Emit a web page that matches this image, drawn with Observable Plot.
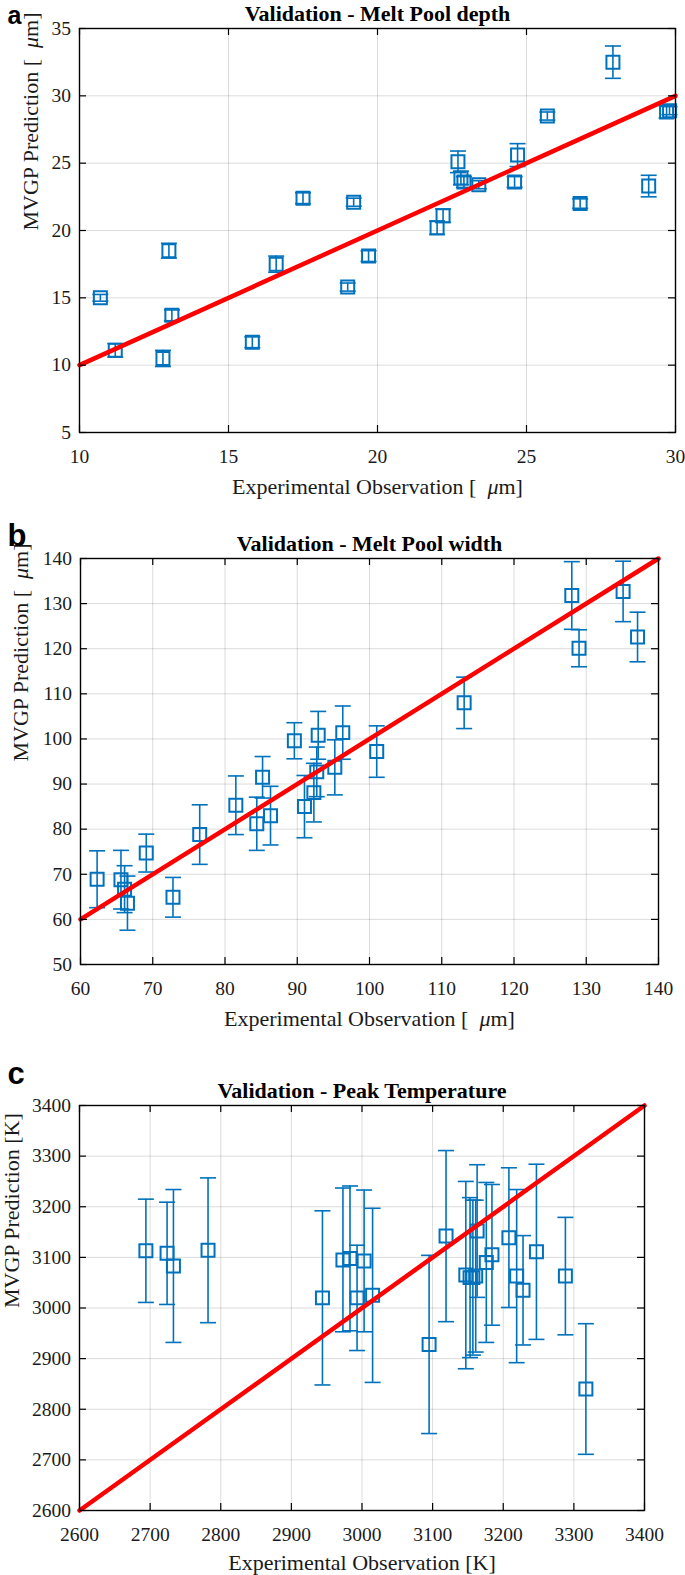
<!DOCTYPE html>
<html><head><meta charset="utf-8">
<script src="https://cdn.jsdelivr.net/npm/d3@7"></script>
<script src="https://cdn.jsdelivr.net/npm/@observablehq/plot@0.6"></script>
<style>html,body{margin:0;padding:0;background:#fff;} svg{display:block}</style>
</head><body><div id="chart"></div>
<script>
// Panel a: melt pool depth
const depthObs  = [10.7, 11.2, 12.8, 13.0, 13.1, 15.8, 16.6, 17.5, 19.0, 19.2, 19.7, 22.0, 22.2, 22.7, 22.8, 22.9, 23.4, 24.6, 24.7, 25.7, 26.8, 27.9, 29.1, 29.7, 29.8];
const depthPred = [15.0, 11.1, 10.5, 18.5, 13.7, 11.7, 17.5, 22.4, 15.8, 22.1, 18.1, 20.2, 21.1, 25.1, 23.9, 23.6, 23.4, 23.6, 25.6, 28.5, 22.0, 32.5, 23.3, 28.8, 28.9];
const depthErr  = [0.25, 0.5, 0.6, 0.55, 0.4, 0.4, 0.6, 0.4, 0.3, 0.3, 0.4, 0.5, 0.5, 0.8, 0.5, 0.4, 0.3, 0.4, 0.85, 0.3, 0.35, 1.2, 0.8, 0.45, 0.3];
const depthXTicks = [10, 15, 20, 25, 30];
const depthYTicks = [5, 10, 15, 20, 25, 30, 35];

// Panel b: melt pool width
const widthObs  = [62.3, 65.6, 66.1, 66.5, 69.1, 72.8, 76.5, 81.5, 84.4, 85.2, 86.3, 89.6, 91.0, 92.3, 92.7, 92.9, 95.2, 96.3, 101.0, 113.1, 128.0, 129.0, 135.1, 137.1];
const widthPred = [68.9, 68.8, 66.7, 63.6, 74.7, 64.9, 78.8, 85.3, 81.2, 91.5, 83.0, 99.6, 85.0, 88.1, 92.7, 100.8, 93.7, 101.4, 97.2, 108.0, 131.8, 120.1, 132.7, 122.6];
const widthErr  = [6.3, 6.5, 5.2, 6.0, 4.2, 4.4, 6.6, 6.5, 5.9, 4.6, 6.5, 4.0, 6.9, 6.5, 5.5, 5.3, 6.1, 5.9, 5.7, 5.7, 7.5, 4.1, 6.7, 5.5];
const widthXTicks = [60, 70, 80, 90, 100, 110, 120, 130, 140];
const widthYTicks = [50, 60, 70, 80, 90, 100, 110, 120, 130, 140];

// Panel c: peak temperature
const tempObs  = [2694, 2724, 2733, 2782, 2944, 2973, 2983, 2993, 3003, 3015, 3095, 3119, 3147, 3153, 3157, 3161, 3163, 3176, 3184, 3208, 3219, 3228, 3247, 3288, 3317];
const tempPred = [3113, 3108, 3083, 3114, 3020, 3095, 3098, 3020, 3093, 3025, 2928, 3142, 3065, 3060, 3060, 3063, 3152, 3090, 3105, 3139, 3063, 3035, 3111, 3063, 2840];
const tempErr  = [102, 101, 151, 143, 172, 142, 143, 104, 140, 172, 176, 169, 185, 158, 153, 150, 131, 158, 139, 138, 171, 108, 173, 116, 129];
const tempXTicks = [2600, 2700, 2800, 2900, 3000, 3100, 3200, 3300, 3400];
const tempYTicks = [2600, 2700, 2800, 2900, 3000, 3100, 3200, 3300, 3400];

const titles  = ["Validation - Melt Pool depth", "Validation - Melt Pool width", "Validation - Peak Temperature"];
const letters = ["a", "b", "c"];
const xLabels = ["Experimental Observation [\u00a0\u00a0μm]", "Experimental Observation [\u00a0\u00a0μm]", "Experimental Observation [K]"];
const yLabels = ["MVGP Prediction [\u00a0\u00a0μm]", "MVGP Prediction [\u00a0\u00a0μm]", "MVGP Prediction [K]"];

const BLUE = "#0072BD";
const SERIF = "'Liberation Serif', 'Times New Roman', Times, serif";
const SANS = "'Liberation Sans', Arial, Helvetica, sans-serif";
const capSymbol = {draw(ctx, size) { const r = Math.sqrt(size / Math.PI); ctx.moveTo(-r, 0); ctx.lineTo(r, 0); }};

function panel(cfg) {
  const {obs, pred, err, xTicks, yTicks, idx, height, m, yLabelDx, letterDy, letterSize, xLabelDy} = cfg;
  const data = obs.map((x, i) => ({x, y: pred[i], e: err[i]}));
  const fw = 685 - m.left - m.right, fh = height - m.top - m.bottom;
  const xd = [xTicks[0], xTicks[xTicks.length - 1]];
  const yd = [yTicks[0], yTicks[yTicks.length - 1]];
  const T = 7;
  const svg = Plot.plot({
    width: 685, height,
    marginTop: m.top, marginBottom: m.bottom, marginLeft: m.left, marginRight: m.right,
    x: {domain: xd, axis: null},
    y: {domain: yd, axis: null},
    style: {fontFamily: SERIF, background: "#fff", overflow: "visible", color: "#1a1a1a"},
    marks: [
      Plot.gridX(xTicks, {stroke: "#000", strokeOpacity: 0.14, strokeWidth: 1}),
      Plot.gridY(yTicks, {stroke: "#000", strokeOpacity: 0.14, strokeWidth: 1}),
      Plot.ruleX(data, {x: "x", y1: d => d.y - d.e, y2: d => d.y + d.e, stroke: BLUE, strokeWidth: 1.6}),
      Plot.dot(data, {x: "x", y: d => d.y - d.e, symbol: capSymbol, r: 8, stroke: BLUE, fill: "none", strokeWidth: 1.6}),
      Plot.dot(data, {x: "x", y: d => d.y + d.e, symbol: capSymbol, r: 8, stroke: BLUE, fill: "none", strokeWidth: 1.6}),
      Plot.dot(data, {x: "x", y: "y", symbol: "square", r: 7.33, stroke: BLUE, fill: "none", strokeWidth: 2}),
      Plot.line(xd, {x: d => d, y: d => d, stroke: "#ff0000", strokeWidth: 4.5}),
      Plot.frame({stroke: "#000", strokeWidth: 1.4}),
      Plot.tickX(xTicks, {x: d => d, insetTop: fh - T, stroke: "#000", strokeWidth: 1.2}),
      Plot.tickX(xTicks, {x: d => d, insetBottom: fh - T, stroke: "#000", strokeWidth: 1.2}),
      Plot.tickY(yTicks, {y: d => d, insetRight: fw - T, stroke: "#000", strokeWidth: 1.2}),
      Plot.tickY(yTicks, {y: d => d, insetLeft: fw - T, stroke: "#000", strokeWidth: 1.2}),
      Plot.text(xTicks, {x: d => d, text: d => String(d), frameAnchor: "bottom", dy: 17, lineAnchor: "top", fontSize: 19.5, fontFamily: SERIF, fill: "#1a1a1a"}),
      Plot.text(yTicks, {y: d => d, text: d => String(d), frameAnchor: "left", dx: -8.5, textAnchor: "end", lineAnchor: "middle", fontSize: 19.5, fontFamily: SERIF, fill: "#1a1a1a"}),
      Plot.text([titles[idx]], {frameAnchor: "top", dy: -8, lineAnchor: "bottom", fontWeight: "bold", fontSize: 22, fontFamily: SERIF, fill: "#000"}),
      Plot.text([xLabels[idx]], {frameAnchor: "bottom", dy: xLabelDy, lineAnchor: "bottom", fontSize: 22, fontFamily: SERIF, fill: "#1a1a1a"}),
      Plot.text([yLabels[idx]], {frameAnchor: "left", dx: yLabelDx, rotate: -90, lineAnchor: "bottom", fontSize: 22, fontFamily: SERIF, fill: "#1a1a1a"}),
      Plot.text([letters[idx]], {frameAnchor: "top-left", dx: 7 - m.left, dy: letterDy, textAnchor: "start", lineAnchor: "bottom", fontFamily: SANS, fontWeight: "bold", fontSize: letterSize, fill: "#000"})
    ]
  });
  // italic mu as in the TeX-rendered original
  svg.querySelectorAll("text").forEach(t => {
    if (t.querySelector("tspan")) return;
    const s = t.textContent, i = s.indexOf("μ");
    if (i < 0) return;
    t.textContent = "";
    const ns = "http://www.w3.org/2000/svg";
    [[s.slice(0, i), false], ["μ", true], [s.slice(i + 1), false]].forEach(([str, it]) => {
      const ts = document.createElementNS(ns, "tspan");
      ts.textContent = str;
      if (it) ts.setAttribute("font-style", "italic");
      t.appendChild(ts);
    });
  });
  return svg;
}

const chart = document.getElementById("chart");
chart.append(panel({obs: depthObs, pred: depthPred, err: depthErr, xTicks: depthXTicks, yTicks: depthYTicks, idx: 0,
  height: 505, m: {top: 28, bottom: 73, left: 79, right: 10}, yLabelDx: -42, letterDy: -5, letterSize: 25, xLabelDy: 61}));
chart.append(panel({obs: widthObs, pred: widthPred, err: widthErr, xTicks: widthXTicks, yTicks: widthYTicks, idx: 1,
  height: 545, m: {top: 53, bottom: 86, left: 80, right: 27}, yLabelDx: -53, letterDy: -13, letterSize: 31, xLabelDy: 61}));
chart.append(panel({obs: tempObs, pred: tempPred, err: tempErr, xTicks: tempXTicks, yTicks: tempYTicks, idx: 2,
  height: 525, m: {top: 55, bottom: 65, left: 79, right: 41}, yLabelDx: -61, letterDy: -22, letterSize: 31, xLabelDy: 59}));
</script>
</body></html>
